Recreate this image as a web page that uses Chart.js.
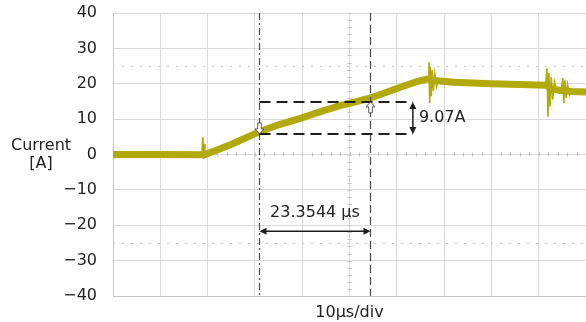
<!DOCTYPE html>
<html>
<head>
<meta charset="utf-8">
<script src="https://cdn.jsdelivr.net/npm/chart.js@4.4.1/dist/chart.umd.min.js"></script>
<style>
  html, body { margin: 0; padding: 0; background: #fff; }
  #wrap { width: 586px; height: 322px; }
</style>
</head>
<body>
<div id="wrap"><canvas id="c" width="586" height="322"></canvas></div>
<script>
// Inductor current ramp, 10 µs/div, 10 A/div
const bandTime    = [0, 10, 19.0, 19.5, 22.0, 24.7, 30.9, 35.0, 39.6, 42.7, 48.0, 54.3, 60.3, 64.0, 66.6, 68.0, 72.0, 80.0, 88.0, 91.6, 92.6, 95.0, 97.0, 100];
const bandCurrent = [0.0, 0.0, -0.1, 0.0, 1.3, 2.7, 6.4, 8.4, 10.2, 11.6, 13.8, 15.9, 18.8, 20.5, 21.4, 20.9, 20.4, 20.0, 19.7, 19.6, 18.6, 18.0, 17.8, 17.7];

// Switching transients (separate bursts split by null)
const ringTime    = [18.8, 19.0, 19.15, 19.3, 19.45, 19.6, null,
                     66.6, 66.8, 66.95, 67.1, 67.3, 67.5, 67.75, 68.05, 68.4, 68.8, null,
                     91.5, 91.75, 91.95, 92.15, 92.4, 92.65, 92.95, 93.3, 93.7, null,
                     94.8, 95.1, 95.3, 95.55, 95.8, 96.1, 96.5, 97.0];
const ringCurrent = [0.0, 4.9, -1.3, 3.0, -0.6, 1.0, null,
                     21.4, 26.1, 14.5, 24.8, 16.5, 23.8, 18.0, 22.8, 19.2, 21.2, null,
                     19.6, 24.4, 10.7, 23.0, 13.5, 22.0, 15.5, 20.6, 18.2, null,
                     18.2, 21.6, 14.6, 21.0, 16.0, 19.8, 16.8, 18.3];

const yTicks = [-40, -30, -20, -10, 0, 10, 20, 30, 40];
const xDivisions = [0, 10, 20, 30, 40, 50, 60, 70, 80, 90, 100];

// Cursor readings
const cursorTime1 = 30.9;            // µs
const deltaTime = 23.3544;           // µs
const cursorCurrent1 = 5.8;          // A
const deltaCurrent = 9.07;           // A
const cursorTime2 = cursorTime1 + deltaTime;
const cursorCurrent2 = cursorCurrent1 + deltaCurrent;

const FONT = "'DejaVu Sans', 'Liberation Sans', sans-serif";
const TEXT = '#222';

function toPoints(xs, ys) {
  return xs.map((x, i) => ({ x: x === null ? NaN : x, y: ys[i] }));
}

function arrowHead(ctx, x, y, dx, dy, len, half) {
  ctx.beginPath();
  ctx.moveTo(x, y);
  ctx.lineTo(x - dx * len - dy * half, y - dy * len + dx * half);
  ctx.lineTo(x - dx * len + dy * half, y - dy * len - dx * half);
  ctx.closePath();
  ctx.fill();
}

function hollowArrow(ctx, x, tipY, dir) {
  // dir = 1: pointing down, tip at tipY; dir = -1: pointing up
  const w = 4.5, sw = 1.8, head = 5, tail = 11;
  ctx.beginPath();
  ctx.moveTo(x, tipY);
  ctx.lineTo(x - w, tipY - dir * head);
  ctx.lineTo(x - sw, tipY - dir * head);
  ctx.lineTo(x - sw, tipY - dir * tail);
  ctx.lineTo(x + sw, tipY - dir * tail);
  ctx.lineTo(x + sw, tipY - dir * head);
  ctx.lineTo(x + w, tipY - dir * head);
  ctx.closePath();
  ctx.fillStyle = '#fff';
  ctx.fill();
  ctx.lineWidth = 1;
  ctx.strokeStyle = '#555';
  ctx.stroke();
}

const scopeOverlay = {
  id: 'scopeOverlay',
  beforeDatasetsDraw(chart) {
    const { ctx, chartArea: a, scales: { x, y } } = chart;
    ctx.save();
    // dotted reference levels at ±25 A
    ctx.strokeStyle = '#c8c8c8';
    ctx.lineWidth = 1;
    ctx.setLineDash([2, 7]);
    [25, -25].forEach(v => {
      const py = Math.round(y.getPixelForValue(v)) + 0.5;
      ctx.beginPath(); ctx.moveTo(a.left, py); ctx.lineTo(a.right, py); ctx.stroke();
    });
    ctx.setLineDash([]);
    // minor ticks on the centre graticule lines
    ctx.strokeStyle = '#c4c4c4';
    const cy = y.getPixelForValue(0);
    for (let t = 0; t <= 100; t += 2) {
      const px = Math.round(x.getPixelForValue(t)) + 0.5;
      ctx.beginPath(); ctx.moveTo(px, cy - 2); ctx.lineTo(px, cy + 2); ctx.stroke();
    }
    const cx = x.getPixelForValue(50);
    for (let v = -40; v <= 40; v += 2) {
      const py = Math.round(y.getPixelForValue(v)) + 0.5;
      ctx.beginPath(); ctx.moveTo(cx - 2, py); ctx.lineTo(cx + 2, py); ctx.stroke();
    }
    ctx.restore();
  },
  afterDatasetsDraw(chart, args, opts) {
    const { ctx, chartArea: a, scales: { x, y } } = chart;
    const x1 = Math.round(x.getPixelForValue(cursorTime1)) + 0.5;
    const x2 = Math.round(x.getPixelForValue(cursorTime2)) + 0.5;
    const y1 = y.getPixelForValue(cursorCurrent1);
    const y2 = y.getPixelForValue(cursorCurrent2);
    const xa = x.getPixelForValue(opts.currentArrowTime);
    const ya = y.getPixelForValue(opts.timeArrowLevel);
    ctx.save();

    // vertical time cursors
    ctx.strokeStyle = '#4a4a4a';
    ctx.lineWidth = 1.2;
    ctx.setLineDash([7, 3, 2, 3]);
    ctx.beginPath(); ctx.moveTo(x1, a.top); ctx.lineTo(x1, a.bottom); ctx.stroke();
    ctx.setLineDash([8, 4]);
    ctx.beginPath(); ctx.moveTo(x2, a.top); ctx.lineTo(x2, a.bottom); ctx.stroke();

    // horizontal current levels
    ctx.strokeStyle = '#1e1e1e';
    ctx.lineWidth = 2;
    ctx.setLineDash([11, 6]);
    [y1, y2].forEach(py => {
      ctx.beginPath(); ctx.moveTo(x1, py); ctx.lineTo(xa, py); ctx.stroke();
    });
    ctx.setLineDash([]);

    // ΔI double arrow
    ctx.fillStyle = '#1e1e1e';
    ctx.lineWidth = 1.5;
    ctx.beginPath(); ctx.moveTo(xa, y2 + 3); ctx.lineTo(xa, y1 - 3); ctx.stroke();
    arrowHead(ctx, xa, y2, 0, -1, 7, 3.5);
    arrowHead(ctx, xa, y1, 0, 1, 7, 3.5);

    // Δt double arrow
    ctx.beginPath(); ctx.moveTo(x1 + 3, ya); ctx.lineTo(x2 - 3, ya); ctx.stroke();
    arrowHead(ctx, x1, ya, -1, 0, 7, 3.5);
    arrowHead(ctx, x2, ya, 1, 0, 7, 3.5);

    // cursor markers on the trace
    hollowArrow(ctx, x1, y1, 1);
    hollowArrow(ctx, x2, y2, -1);

    // readouts
    ctx.fillStyle = TEXT;
    ctx.font = '16px ' + FONT;
    ctx.textBaseline = 'middle';
    ctx.textAlign = 'left';
    ctx.fillText(deltaCurrent.toFixed(2) + 'A', xa + 6, (y1 + y2) / 2);
    ctx.textAlign = 'center';
    ctx.fillText(deltaTime.toFixed(4) + ' µs', (x1 + x2) / 2, ya - 18);
    ctx.restore();
  },
  afterDraw(chart) {
    const { ctx } = chart;
    ctx.save();
    ctx.fillStyle = TEXT;
    ctx.font = '16px ' + FONT;
    ctx.textAlign = 'center';
    ctx.textBaseline = 'middle';
    ctx.fillText('Current', 41, 146);
    ctx.fillText('[A]', 41, 164);
    ctx.restore();
  }
};

new Chart(document.getElementById('c'), {
  type: 'line',
  data: {
    datasets: [
      {
        label: 'band',
        data: toPoints(bandTime, bandCurrent),
        borderColor: 'rgb(178,170,12)',
        borderWidth: 7,
        pointRadius: 0,
        tension: 0,
        borderJoinStyle: 'round',
        borderCapStyle: 'butt'
      },
      {
        label: 'transients',
        data: toPoints(ringTime, ringCurrent),
        borderColor: 'rgb(178,170,12)',
        borderWidth: 1.6,
        pointRadius: 0,
        tension: 0,
        spanGaps: false
      }
    ]
  },
  options: {
    responsive: false,
    animation: false,
    devicePixelRatio: 1,
    layout: { autoPadding: false, padding: { top: 13, right: 0, bottom: 0, left: 0 } },
    plugins: {
      legend: { display: false },
      tooltip: { enabled: false },
      scopeOverlay: { currentArrowTime: 63.4, timeArrowLevel: -21.7 }
    },
    scales: {
      x: {
        type: 'linear',
        min: 0, max: 100,
        afterBuildTicks: s => { s.ticks = xDivisions.map(v => ({ value: v })); },
        ticks: { display: false },
        grid: { color: '#dadada', lineWidth: 1, drawTicks: false },
        border: { color: '#c4c4c4', width: 1 },
        title: {
          display: true,
          text: '10µs/div',
          color: TEXT,
          font: { family: FONT, size: 16 },
          padding: { top: 4, bottom: 0 }
        },
        afterFit: s => { s.height = 26; s.paddingLeft = 0; s.paddingRight = 0; }
      },
      y: {
        type: 'linear',
        min: -40, max: 40,
        afterBuildTicks: s => { s.ticks = yTicks.map(v => ({ value: v })); },
        ticks: {
          color: TEXT,
          padding: 16,
          font: { family: FONT, size: 16 },
          callback: v => (v < 0 ? '\u2212' + Math.abs(v) : String(v))
        },
        grid: { color: '#dadada', lineWidth: 1, drawTicks: false },
        border: { color: '#c4c4c4', width: 1 },
        afterFit: s => { s.width = 113; s.paddingTop = 0; s.paddingBottom = 0; }
      }
    }
  },
  plugins: [scopeOverlay]
});
</script>
</body>
</html>
